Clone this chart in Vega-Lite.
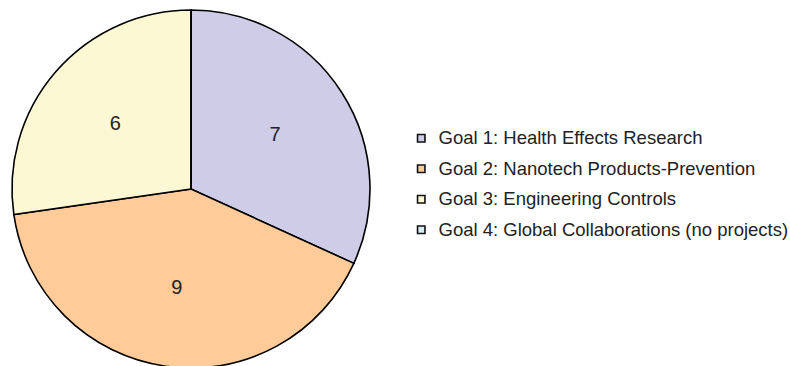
{
  "$schema": "https://vega.github.io/schema/vega-lite/v6.json",
  "width": 382,
  "height": 360,
  "padding": {"left": 0, "top": 6, "right": 0, "bottom": 0},
  "background": "white",
  "data": {"values": [
    {"goal": "Goal 1: Health Effects Research", "n": 7},
    {"goal": "Goal 2: Nanotech Products-Prevention", "n": 9},
    {"goal": "Goal 3: Engineering Controls", "n": 6},
    {"goal": "Goal 4: Global Collaborations (no projects)", "n": 0}
  ]},
  "encoding": {
    "theta": {"field": "n", "type": "quantitative", "stack": true},
    "order": {"field": "goal", "type": "nominal", "sort": "ascending"}
  },
  "layer": [
    {
      "mark": {"type": "arc", "outerRadius": 179, "stroke": "#000", "strokeWidth": 1.6},
      "encoding": {
        "color": {
          "field": "goal", "type": "nominal",
          "scale": {
            "domain": ["Goal 1: Health Effects Research", "Goal 2: Nanotech Products-Prevention", "Goal 3: Engineering Controls", "Goal 4: Global Collaborations (no projects)"],
            "range": ["#CFCCE8", "#FFCC99", "#FBF8D3", "#D6EEF3"]
          },
          "legend": {
            "title": null,
            "orient": "none",
            "legendX": 412,
            "legendY": 120,
            "symbolType": "square",
            "symbolSize": 55,
            "symbolStrokeColor": "#111",
            "symbolStrokeWidth": 1.6,
            "labelFont": "Liberation Sans",
            "labelFontSize": 18.5,
            "labelColor": "#222",
            "labelLimit": 0,
            "labelOffset": 8,
            "rowPadding": 11.5
          }
        }
      }
    },
    {
      "transform": [{"filter": "datum.n > 0"}],
      "mark": {"type": "text", "radius": 100, "fontSize": 20, "font": "Liberation Sans", "fill": "#222"},
      "encoding": {
        "detail": {"field": "goal", "type": "nominal"},
        "text": {"field": "n", "type": "quantitative"}
      }
    }
  ],
  "config": {"view": {"stroke": null}}
}
